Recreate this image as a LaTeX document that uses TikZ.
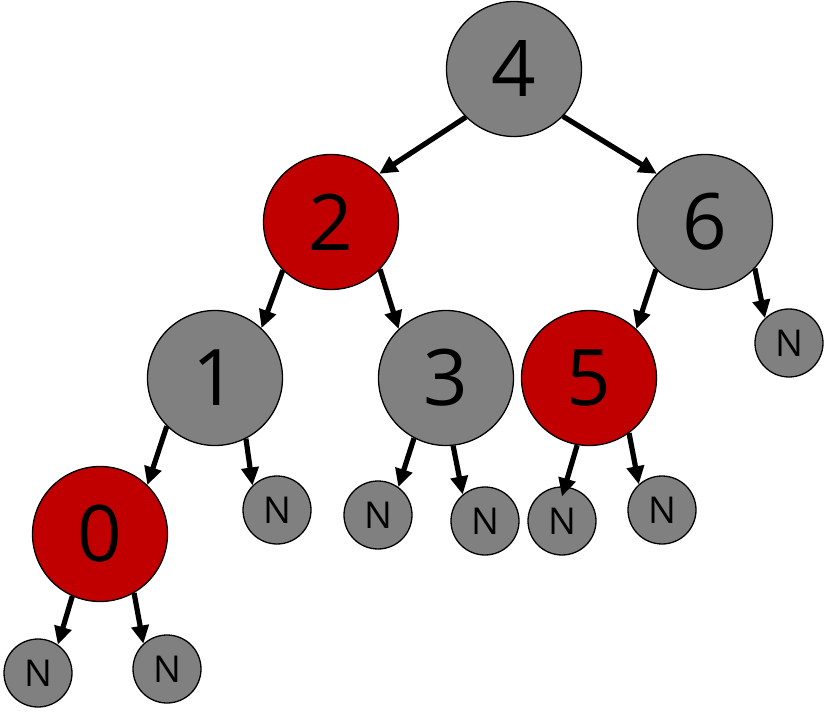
\documentclass[tikz,border=0pt]{standalone}
\usepackage{fontspec}
\setmainfont{Open Sans}
\usetikzlibrary{arrows.meta}
\definecolor{rbred}{HTML}{C00000}
\definecolor{rbgray}{HTML}{808080}
\begin{document}
\begin{tikzpicture}[x=1pt,y=-1pt,
  big/.style={circle,draw=black,line width=1.3pt,minimum size=135pt,inner sep=0pt,font=\fontsize{78}{80}\selectfont},
  small/.style={circle,draw=black,line width=1.3pt,fill=rbgray,minimum size=68pt,inner sep=0pt,font=\fontsize{37}{40}\selectfont},
  gnode/.style={big,fill=rbgray},
  rnode/.style={big,fill=rbred},
  edge/.style={line width=5.2pt,-{Triangle[length=18pt,width=17pt]}}]
\useasboundingbox (0,0) rectangle (828,719);
% nodes
\node[gnode] (n4) at (514,69) {4};
\node[rnode] (n2) at (331,222) {2};
\node[gnode] (n6) at (705,222) {6};
\node[gnode] (n1) at (215,378) {1};
\node[gnode] (n3) at (446,378) {3};
\node[rnode] (n5) at (589,378) {5};
\node[rnode] (n0) at (100,534) {0};
\node[small] (l6) at (789,343) {N};
\node[small] (l1) at (277,510) {N};
\node[small] (l3a) at (378,515) {N};
\node[small] (l3b) at (485,521) {N};
\node[small] (l5a) at (562,521) {N};
\node[small] (l5b) at (662,510) {N};
\node[small] (l0a) at (38,673) {N};
\node[small] (l0b) at (167,669) {N};
% edges
\draw[edge] (n4.-135) -- (n2.45);
\draw[edge] (n4.-44) -- (n6.135);
\draw[edge] (n2.-135) -- (n1.47);
\draw[edge] (n2.-44) -- (n3.134);
\draw[edge] (n6.-136) -- (n5.46);
\draw[edge] (n6.-43) -- (l6.134);
\draw[edge] (n1.-135) -- (n0.46);
\draw[edge] (n1.-63) -- (l1.135);
\draw[edge] (n3.-118) -- (l3a.54);
\draw[edge] (n3.-84) -- (l3b.130);
\draw[edge] (n5.-100) -- ([yshift=-10pt]l5a.north);
\draw[edge] (n5.-54) -- (l5b.132);
\draw[edge] (n0.-114) -- (l0a.55);
\draw[edge] (n0.-60) -- (l0b.133);
\end{tikzpicture}
\end{document}
